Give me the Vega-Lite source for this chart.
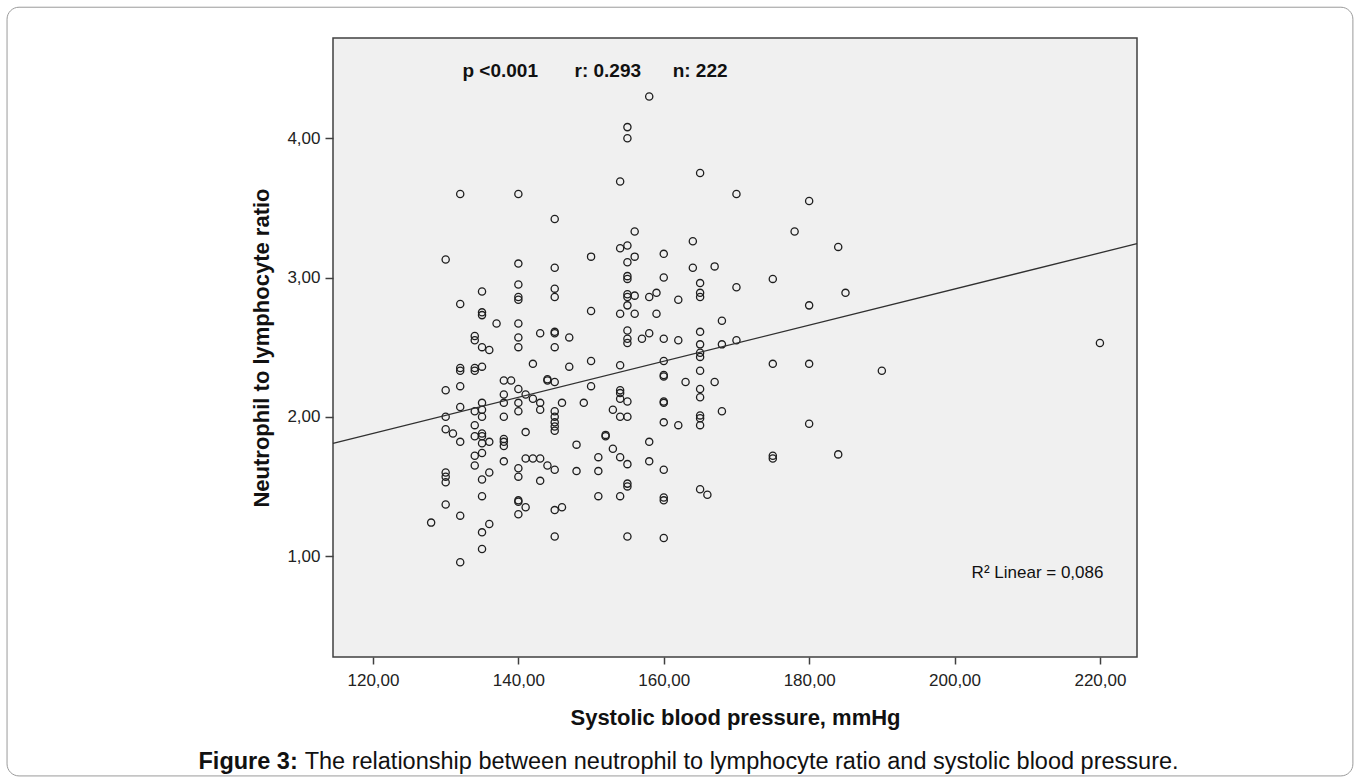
{
  "$schema": "https://vega.github.io/schema/vega-lite/v6.json",
  "width": 804,
  "height": 619,
  "autosize": {"type": "none"},
  "padding": {"left": 333, "top": 38, "right": 223, "bottom": 125},
  "background": "white",
  "config": {
    "view": {"fill": "#f0f0f0", "stroke": "#404040", "strokeWidth": 1.5},
    "font": "Liberation Sans"
  },
  "datasets": {
    "points": [
      {"sbp":132,"nlr":3.60},{"sbp":140,"nlr":3.60},{"sbp":145,"nlr":3.42},{"sbp":158,"nlr":4.30},{"sbp":155,"nlr":4.08},
      {"sbp":155,"nlr":4.00},{"sbp":154,"nlr":3.69},{"sbp":165,"nlr":3.75},{"sbp":170,"nlr":3.60},{"sbp":156,"nlr":3.33},
      {"sbp":180,"nlr":3.55},{"sbp":178,"nlr":3.33},{"sbp":184,"nlr":3.22},{"sbp":175,"nlr":2.99},{"sbp":185,"nlr":2.89},
      {"sbp":180,"nlr":2.80},{"sbp":175,"nlr":2.38},{"sbp":180,"nlr":2.38},{"sbp":190,"nlr":2.33},{"sbp":180,"nlr":1.95},
      {"sbp":220,"nlr":2.53},{"sbp":175,"nlr":1.72},{"sbp":175,"nlr":1.70},{"sbp":184,"nlr":1.73},{"sbp":152,"nlr":1.87},
      {"sbp":152,"nlr":1.86},{"sbp":148,"nlr":1.80},{"sbp":158,"nlr":1.82},{"sbp":143,"nlr":1.70},{"sbp":144,"nlr":1.65},
      {"sbp":145,"nlr":1.62},{"sbp":148,"nlr":1.61},{"sbp":151,"nlr":1.71},{"sbp":151,"nlr":1.61},{"sbp":153,"nlr":1.77},
      {"sbp":154,"nlr":1.71},{"sbp":155,"nlr":1.66},{"sbp":158,"nlr":1.68},{"sbp":160,"nlr":1.62},{"sbp":143,"nlr":1.54},
      {"sbp":155,"nlr":1.52},{"sbp":155,"nlr":1.50},{"sbp":151,"nlr":1.43},{"sbp":154,"nlr":1.43},{"sbp":160,"nlr":1.42},
      {"sbp":160,"nlr":1.40},{"sbp":165,"nlr":1.48},{"sbp":166,"nlr":1.44},{"sbp":145,"nlr":1.33},{"sbp":146,"nlr":1.35},
      {"sbp":145,"nlr":1.14},{"sbp":155,"nlr":1.14},{"sbp":160,"nlr":1.13},{"sbp":130,"nlr":1.91},{"sbp":131,"nlr":1.88},
      {"sbp":132,"nlr":1.82},{"sbp":134,"nlr":1.86},{"sbp":135,"nlr":1.88},{"sbp":135,"nlr":1.86},{"sbp":135,"nlr":1.81},
      {"sbp":135,"nlr":1.74},{"sbp":136,"nlr":1.82},{"sbp":138,"nlr":1.84},{"sbp":138,"nlr":1.82},{"sbp":138,"nlr":1.79},
      {"sbp":138,"nlr":1.68},{"sbp":141,"nlr":1.89},{"sbp":145,"nlr":1.90},{"sbp":134,"nlr":1.72},{"sbp":134,"nlr":1.65},
      {"sbp":136,"nlr":1.60},{"sbp":135,"nlr":1.55},{"sbp":130,"nlr":1.60},{"sbp":130,"nlr":1.57},{"sbp":130,"nlr":1.53},
      {"sbp":140,"nlr":1.63},{"sbp":140,"nlr":1.57},{"sbp":141,"nlr":1.70},{"sbp":142,"nlr":1.70},{"sbp":135,"nlr":1.43},
      {"sbp":130,"nlr":1.37},{"sbp":128,"nlr":1.24},{"sbp":132,"nlr":1.29},{"sbp":140,"nlr":1.40},{"sbp":140,"nlr":1.39},
      {"sbp":141,"nlr":1.35},{"sbp":140,"nlr":1.30},{"sbp":136,"nlr":1.23},{"sbp":135,"nlr":1.17},{"sbp":135,"nlr":1.05},
      {"sbp":132,"nlr":0.955},{"sbp":130,"nlr":3.13},{"sbp":132,"nlr":2.81},{"sbp":135,"nlr":2.90},{"sbp":135,"nlr":2.75},
      {"sbp":135,"nlr":2.73},{"sbp":137,"nlr":2.67},{"sbp":140,"nlr":3.10},{"sbp":140,"nlr":2.95},{"sbp":140,"nlr":2.86},
      {"sbp":140,"nlr":2.84},{"sbp":140,"nlr":2.67},{"sbp":140,"nlr":2.57},{"sbp":140,"nlr":2.50},{"sbp":143,"nlr":2.60},
      {"sbp":145,"nlr":3.07},{"sbp":145,"nlr":2.92},{"sbp":145,"nlr":2.86},{"sbp":145,"nlr":2.61},{"sbp":145,"nlr":2.60},
      {"sbp":145,"nlr":2.50},{"sbp":134,"nlr":2.58},{"sbp":134,"nlr":2.55},{"sbp":135,"nlr":2.50},{"sbp":136,"nlr":2.48},
      {"sbp":142,"nlr":2.38},{"sbp":132,"nlr":2.35},{"sbp":132,"nlr":2.33},{"sbp":134,"nlr":2.35},{"sbp":134,"nlr":2.33},
      {"sbp":135,"nlr":2.36},{"sbp":130,"nlr":2.19},{"sbp":132,"nlr":2.22},{"sbp":138,"nlr":2.26},{"sbp":139,"nlr":2.26},
      {"sbp":140,"nlr":2.20},{"sbp":141,"nlr":2.16},{"sbp":142,"nlr":2.13},{"sbp":144,"nlr":2.27},{"sbp":144,"nlr":2.26},
      {"sbp":145,"nlr":2.25},{"sbp":138,"nlr":2.16},{"sbp":138,"nlr":2.10},{"sbp":140,"nlr":2.10},{"sbp":140,"nlr":2.04},
      {"sbp":143,"nlr":2.10},{"sbp":143,"nlr":2.05},{"sbp":135,"nlr":2.10},{"sbp":135,"nlr":2.05},{"sbp":134,"nlr":2.04},
      {"sbp":132,"nlr":2.07},{"sbp":130,"nlr":2.00},{"sbp":135,"nlr":2.00},{"sbp":138,"nlr":2.00},{"sbp":145,"nlr":2.04},
      {"sbp":145,"nlr":2.00},{"sbp":145,"nlr":1.96},{"sbp":145,"nlr":1.93},{"sbp":134,"nlr":1.94},{"sbp":154,"nlr":3.21},
      {"sbp":155,"nlr":3.23},{"sbp":156,"nlr":3.15},{"sbp":155,"nlr":3.11},{"sbp":150,"nlr":3.15},{"sbp":160,"nlr":3.17},
      {"sbp":164,"nlr":3.26},{"sbp":155,"nlr":3.01},{"sbp":155,"nlr":2.99},{"sbp":160,"nlr":3.00},{"sbp":164,"nlr":3.07},
      {"sbp":167,"nlr":3.08},{"sbp":165,"nlr":2.96},{"sbp":165,"nlr":2.89},{"sbp":165,"nlr":2.86},{"sbp":170,"nlr":2.93},
      {"sbp":155,"nlr":2.88},{"sbp":155,"nlr":2.86},{"sbp":156,"nlr":2.87},{"sbp":158,"nlr":2.86},{"sbp":159,"nlr":2.89},
      {"sbp":162,"nlr":2.84},{"sbp":150,"nlr":2.76},{"sbp":154,"nlr":2.74},{"sbp":156,"nlr":2.74},{"sbp":155,"nlr":2.80},
      {"sbp":159,"nlr":2.74},{"sbp":168,"nlr":2.69},{"sbp":147,"nlr":2.57},{"sbp":155,"nlr":2.62},{"sbp":155,"nlr":2.56},
      {"sbp":155,"nlr":2.53},{"sbp":157,"nlr":2.56},{"sbp":158,"nlr":2.60},{"sbp":160,"nlr":2.56},{"sbp":162,"nlr":2.55},
      {"sbp":165,"nlr":2.61},{"sbp":165,"nlr":2.52},{"sbp":165,"nlr":2.46},{"sbp":165,"nlr":2.43},{"sbp":168,"nlr":2.52},
      {"sbp":170,"nlr":2.55},{"sbp":147,"nlr":2.36},{"sbp":150,"nlr":2.40},{"sbp":154,"nlr":2.37},{"sbp":160,"nlr":2.40},
      {"sbp":160,"nlr":2.30},{"sbp":160,"nlr":2.29},{"sbp":165,"nlr":2.33},{"sbp":163,"nlr":2.25},{"sbp":167,"nlr":2.25},
      {"sbp":165,"nlr":2.20},{"sbp":165,"nlr":2.14},{"sbp":150,"nlr":2.22},{"sbp":154,"nlr":2.19},{"sbp":154,"nlr":2.17},
      {"sbp":154,"nlr":2.13},{"sbp":155,"nlr":2.11},{"sbp":160,"nlr":2.11},{"sbp":160,"nlr":2.10},{"sbp":146,"nlr":2.10},
      {"sbp":149,"nlr":2.10},{"sbp":153,"nlr":2.05},{"sbp":154,"nlr":2.00},{"sbp":155,"nlr":2.00},{"sbp":165,"nlr":2.01},
      {"sbp":165,"nlr":1.99},{"sbp":168,"nlr":2.04},{"sbp":160,"nlr":1.96},{"sbp":162,"nlr":1.94},{"sbp":165,"nlr":1.94}
    ],
    "fit": [{"sbp": 114.5, "nlr": 1.809}, {"sbp": 225.1, "nlr": 3.243}],
    "stats": [
      {"label": "p <0.001", "sbp": 137.5},
      {"label": "r: 0.293", "sbp": 152.3},
      {"label": "n: 222", "sbp": 165.0}
    ]
  },
  "layer": [
    {
      "data": {"name": "points"},
      "mark": {"type": "point", "shape": "circle", "filled": false, "stroke": "#1e1e1e", "strokeWidth": 1.3, "size": 52, "opacity": 1},
      "encoding": {
        "x": {
          "field": "sbp", "type": "quantitative",
          "scale": {"domain": [114.5, 225.1], "nice": false, "zero": false},
          "axis": {
            "values": [120, 140, 160, 180, 200, 220],
            "labelExpr": "replace(format(datum.value, '.2f'), '.', ',')",
            "labelFontSize": 17, "labelColor": "#222222", "labelPadding": 8,
            "tickSize": 7, "tickColor": "#404040", "tickWidth": 1.5,
            "domain": false, "grid": false,
            "title": "Systolic blood pressure, mmHg",
            "titleFontSize": 22, "titleFontWeight": "bold", "titleColor": "#111111", "titlePadding": 19
          }
        },
        "y": {
          "field": "nlr", "type": "quantitative",
          "scale": {"domain": [0.275, 4.72], "nice": false, "zero": false},
          "axis": {
            "values": [1, 2, 3, 4],
            "labelExpr": "replace(format(datum.value, '.2f'), '.', ',')",
            "labelFontSize": 17, "labelColor": "#222222", "labelPadding": 5,
            "tickSize": 8, "tickColor": "#404040", "tickWidth": 1.5,
            "domain": false, "grid": false,
            "title": "Neutrophil to lymphocyte ratio",
            "titleFontSize": 22, "titleFontWeight": "bold", "titleColor": "#111111", "titlePadding": 13
          }
        }
      }
    },
    {
      "data": {"name": "fit"},
      "mark": {"type": "line", "color": "#303030", "strokeWidth": 1.3},
      "encoding": {
        "x": {"field": "sbp", "type": "quantitative"},
        "y": {"field": "nlr", "type": "quantitative"}
      }
    },
    {
      "data": {"name": "stats"},
      "mark": {"type": "text", "fontSize": 19, "fontWeight": "bold", "color": "#111111", "align": "center", "baseline": "middle"},
      "encoding": {
        "x": {"field": "sbp", "type": "quantitative"},
        "y": {"datum": 4.48},
        "text": {"field": "label"}
      }
    },
    {
      "data": {"values": [{"label": "R² Linear = 0,086"}]},
      "mark": {"type": "text", "fontSize": 17, "color": "#111111", "align": "left", "baseline": "middle"},
      "encoding": {
        "x": {"datum": 202.35},
        "y": {"datum": 0.878},
        "text": {"field": "label"}
      }
    },
    {
      "data": {"values": [{"label": "Figure 3:"}]},
      "mark": {"type": "text", "fontSize": 23.5, "fontWeight": "bold", "color": "#111111", "align": "left", "baseline": "middle"},
      "encoding": {
        "x": {"datum": 96.0},
        "y": {"datum": -0.48},
        "text": {"field": "label"}
      }
    },
    {
      "data": {"values": [{"label": "The relationship between neutrophil to lymphocyte ratio and systolic blood pressure."}]},
      "mark": {"type": "text", "fontSize": 23.5, "color": "#111111", "align": "left", "baseline": "middle"},
      "encoding": {
        "x": {"datum": 110.6},
        "y": {"datum": -0.48},
        "text": {"field": "label"}
      }
    },
    {
      "data": {"values": [{"frame": "figure"}]},
      "mark": {"type": "rect", "fill": null, "fillOpacity": 0, "stroke": "#9a9a9a", "strokeWidth": 1, "cornerRadius": 12},
      "encoding": {
        "x": {"datum": 69.66},
        "x2": {"datum": 254.8},
        "y": {"datum": 4.941},
        "y2": {"datum": -0.579}
      }
    }
  ]
}
